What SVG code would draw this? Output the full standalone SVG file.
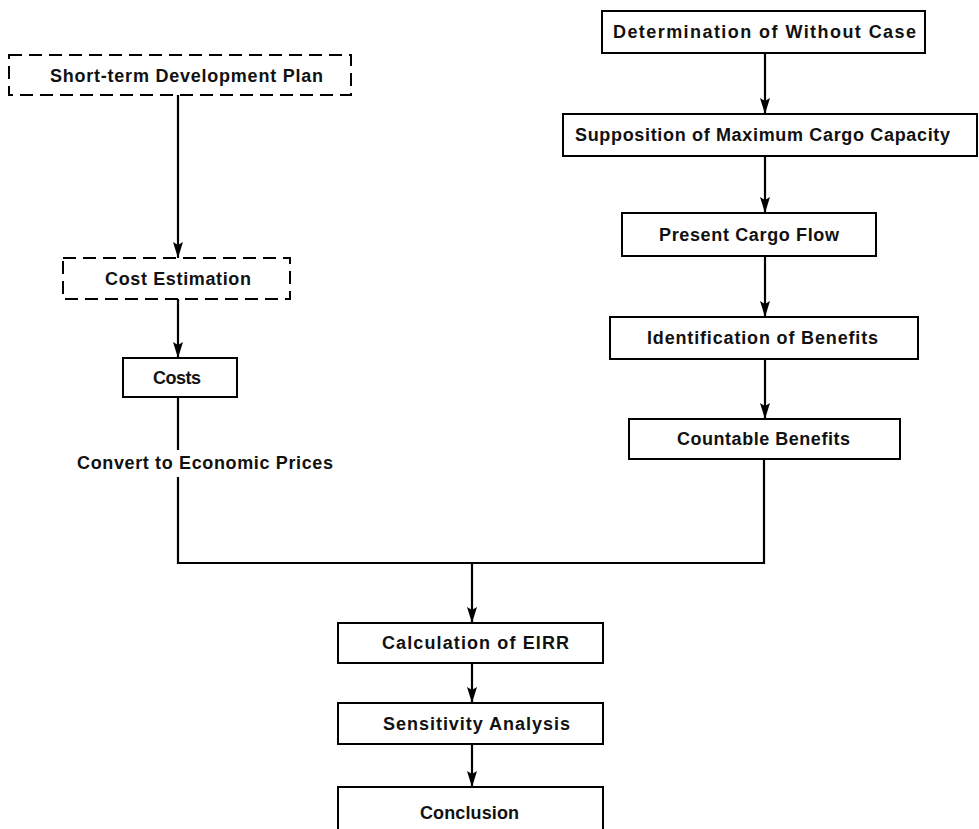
<svg xmlns="http://www.w3.org/2000/svg" width="979" height="829" viewBox="0 0 979 829">
<style>
.box{fill:#fff;stroke:#000;stroke-width:2}
.dash{fill:#fff;stroke:#000;stroke-width:2;stroke-dasharray:13 7}
.t{font-family:"Liberation Sans",Arial,sans-serif;font-size:18px;font-weight:bold;fill:#111;text-anchor:middle}
.c{fill:none;stroke:#000;stroke-width:2.2}
</style>
<defs>
<marker id="a" viewBox="0 0 16 10" refX="16" refY="5" markerWidth="16" markerHeight="10" markerUnits="userSpaceOnUse" orient="auto">
<path d="M0,0 L16,5 L0,10 L3,5 Z" fill="#000"/>
</marker>
</defs>
<rect width="979" height="829" fill="#fff"/>
<g id="connectors">
<line class="c" x1="178" y1="95" x2="178" y2="258" marker-end="url(#a)"/>
<line class="c" x1="178" y1="299" x2="178" y2="358" marker-end="url(#a)"/>
<polyline class="c" points="178,397 178,450"/>
<polyline class="c" points="178,477 178,563 764,563 764,459"/>
<line class="c" x1="472" y1="563" x2="472" y2="623" marker-end="url(#a)"/>
<line class="c" x1="765" y1="53" x2="765" y2="114" marker-end="url(#a)"/>
<line class="c" x1="765" y1="156" x2="765" y2="213" marker-end="url(#a)"/>
<line class="c" x1="765" y1="256" x2="765" y2="317" marker-end="url(#a)"/>
<line class="c" x1="765" y1="359" x2="765" y2="419" marker-end="url(#a)"/>
<line class="c" x1="472" y1="663" x2="472" y2="703" marker-end="url(#a)"/>
<line class="c" x1="472" y1="744" x2="472" y2="787" marker-end="url(#a)"/>
<text class="t" x="205" y="469" textLength="256" lengthAdjust="spacing">Convert to Economic Prices</text>
</g>
<g id="short-term">
<rect class="dash" x="9" y="55" width="342" height="40"/>
<text class="t" x="186.5" y="82" textLength="273" lengthAdjust="spacing">Short-term Development Plan</text>
</g>
<g id="cost-estimation">
<rect class="dash" x="63" y="258" width="227" height="41"/>
<text class="t" x="178" y="285" textLength="146" lengthAdjust="spacing">Cost Estimation</text>
</g>
<g id="costs">
<rect class="box" x="123" y="358" width="114" height="39"/>
<text class="t" x="177" y="384" textLength="48" lengthAdjust="spacing">Costs</text>
</g>
<g id="without-case">
<rect class="box" x="602" y="11" width="323" height="42"/>
<text class="t" x="764.5" y="38" textLength="303" lengthAdjust="spacing">Determination of Without Case</text>
</g>
<g id="supposition">
<rect class="box" x="563" y="114" width="414" height="42"/>
<text class="t" x="762.5" y="141" textLength="375" lengthAdjust="spacing">Supposition of Maximum Cargo Capacity</text>
</g>
<g id="present-cargo">
<rect class="box" x="622" y="213" width="254" height="43"/>
<text class="t" x="749" y="241" textLength="180" lengthAdjust="spacing">Present Cargo Flow</text>
</g>
<g id="identification">
<rect class="box" x="610" y="317" width="308" height="42"/>
<text class="t" x="762.5" y="344" textLength="231" lengthAdjust="spacing">Identification of Benefits</text>
</g>
<g id="countable">
<rect class="box" x="629" y="419" width="271" height="40"/>
<text class="t" x="763.5" y="445" textLength="173" lengthAdjust="spacing">Countable Benefits</text>
</g>
<g id="eirr">
<rect class="box" x="338" y="623" width="265" height="40"/>
<text class="t" x="475.5" y="649" textLength="187" lengthAdjust="spacing">Calculation of EIRR</text>
</g>
<g id="sensitivity">
<rect class="box" x="338" y="703" width="265" height="41"/>
<text class="t" x="476.5" y="730" textLength="187" lengthAdjust="spacing">Sensitivity Analysis</text>
</g>
<g id="conclusion">
<rect class="box" x="338" y="787" width="265" height="60"/>
<text class="t" x="469.5" y="819" textLength="99" lengthAdjust="spacing">Conclusion</text>
</g>
</svg>
